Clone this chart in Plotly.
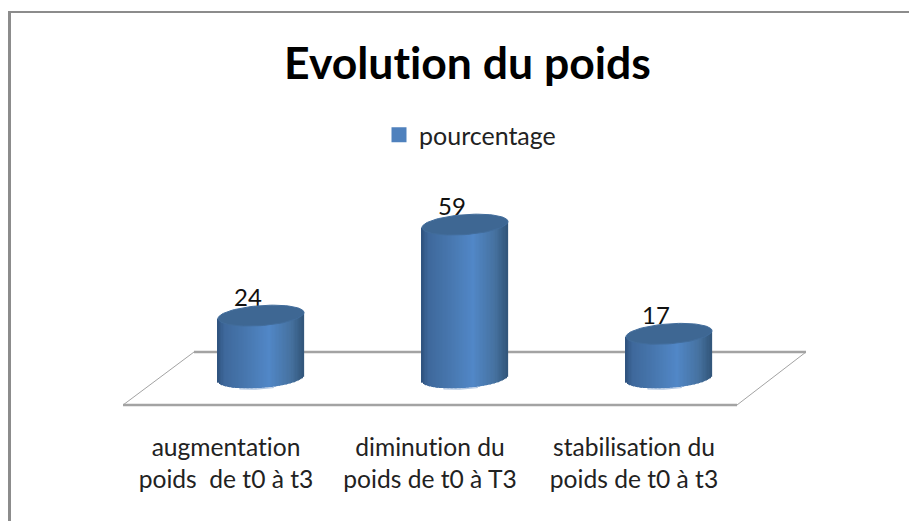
import numpy as np
import plotly.graph_objects as go

categories = [
    "augmentation<br>poids  de t0 à t3",
    "diminution du<br>poids de t0 à T3",
    "stabilisation du<br>poids de t0 à t3",
]
pourcentage = [24, 59, 17]
title = "Evolution du poids"
series_name = "pourcentage"

W, H = 909, 521
PLOT_BOTTOM = 430     # pixel row where the plot area stops
PX_X = 204.0          # pixels per category
PX_Y = 2.6            # pixels per percent
X0_PX = 261.0         # pixel of first category
Y0_PX = 378.0         # pixel of value 0
HALF_W = 43 / PX_X
HALF_H = 10 / PX_Y
SHEAR = 3 / PX_Y      # tilt of the ellipses
N_SLICES = 64
FONT = "Lato"


def px_x(p):
    return (p - X0_PX) / PX_X


def px_y(p):
    return (Y0_PX - p) / PX_Y


def shade(t):
    stops = [0, 0.08, 0.35, 0.6, 0.85, 1]
    r = np.interp(t, stops, [47, 62, 72, 81, 70, 50])
    g = np.interp(t, stops, [82, 104, 120, 135, 114, 85])
    b = np.interp(t, stops, [125, 155, 176, 199, 160, 122])
    return f"rgb({r:.0f},{g:.0f},{b:.0f})"


fig = go.Figure()

# cylinder bodies: thin bars following the bottom ellipse
u = (np.arange(N_SLICES) + 0.5) / N_SLICES * 2 - 1
slice_x, slice_h, slice_b, slice_c = [], [], [], []
for i, v in enumerate(pourcentage):
    base = -HALF_H * np.sqrt(1 - u ** 2) + SHEAR * u
    slice_x.extend(i + u * HALF_W)
    slice_b.extend(base)
    slice_h.extend(v + SHEAR * u - base)
    slice_c.extend(shade((t + 1) / 2) for t in u)

fig.add_trace(go.Bar(
    x=slice_x,
    y=slice_h,
    base=slice_b,
    width=2 * HALF_W / N_SLICES * 1.2,
    marker=dict(color=slice_c, line=dict(width=0)),
    showlegend=False,
    hoverinfo="skip",
))

# faint light rim under each cylinder
rim = np.linspace(-0.5, 0.3, 20)
for i in range(len(pourcentage)):
    fig.add_trace(go.Scatter(
        x=i + rim * HALF_W,
        y=-HALF_H * np.sqrt(1 - rim ** 2) + SHEAR * rim - 0.8 / PX_Y,
        mode="lines",
        line=dict(color="#b4c8e2", width=1.2),
        showlegend=False,
        hoverinfo="skip",
    ))

# labels go under the caps, the caps clip them a little
fig.add_trace(go.Scatter(
    x=[i - 13 / PX_X for i in range(len(pourcentage))],
    y=[v + 15.5 / PX_Y for v in pourcentage],
    mode="text",
    text=[str(v) for v in pourcentage],
    textposition="middle center",
    textfont=dict(family=FONT, size=24, color="#111111"),
    showlegend=False,
    hoverinfo="skip",
))

theta = np.linspace(0, 2 * np.pi, 80)
for i, v in enumerate(pourcentage):
    fig.add_trace(go.Scatter(
        x=i + HALF_W * np.cos(theta),
        y=v + HALF_H * np.sin(theta) + SHEAR * np.cos(theta),
        mode="lines",
        fill="toself",
        fillcolor="#3e6793",
        line=dict(color="#426d9c", width=1),
        showlegend=False,
        hoverinfo="skip",
    ))

# legend entry only
fig.add_trace(go.Scatter(
    x=[None],
    y=[None],
    mode="markers",
    name=series_name,
    marker=dict(symbol="square", size=15, color="#4f81bd"),
))

# carries the category labels on the second x axis
fig.add_trace(go.Scatter(x=[None], y=[None], xaxis="x2", showlegend=False, hoverinfo="skip"))

# floor of the 3d chart
floor_px = [(123, 405, 737, 405, 2.5), (194, 352, 806, 352, 2.5),
            (123, 405, 194, 352, 1), (737, 405, 806, 352, 1)]
shapes = []
for x0, y0, x1, y1, lw in floor_px:
    shapes.append(dict(type="line", xref="x", yref="y", layer="below",
                       x0=px_x(x0), y0=px_y(y0), x1=px_x(x1), y1=px_y(y1),
                       line=dict(color="#a3a3a3", width=lw)))

# frame of the chart area
shapes.append(dict(type="line", xref="paper", yref="paper", layer="below",
                   x0=8 / W, x1=1, y0=1 - 12 / H, y1=1 - 12 / H,
                   line=dict(color="#8c8c8c", width=2)))
shapes.append(dict(type="line", xref="paper", yref="paper", layer="below",
                   x0=9.5 / W, x1=9.5 / W, y0=0, y1=1 - 11 / H,
                   line=dict(color="#8c8c8c", width=3)))

fig.update_layout(
    width=W,
    height=H,
    margin=dict(l=0, r=0, t=0, b=0),
    plot_bgcolor="white",
    paper_bgcolor="white",
    barmode="overlay",
    title=dict(text=f"<b>{title}</b>", x=467.5 / W, xanchor="center",
               y=1 - 63 / H, yanchor="middle",
               font=dict(family=FONT, size=44.5, color="black")),
    legend=dict(x=379 / W, xanchor="left", y=1 - 135 / H, yanchor="middle",
                orientation="h", font=dict(family=FONT, size=25, color="#222222"),
                bgcolor="rgba(0,0,0,0)"),
    xaxis=dict(range=[px_x(0), px_x(W)], visible=False),
    # second x axis only carries the category labels, they sit left of the cylinders
    xaxis2=dict(
        overlaying="x",
        side="bottom",
        anchor="y",
        range=[px_x(0) + 35 / PX_X, px_x(W) + 35 / PX_X],
        tickmode="array",
        tickvals=list(range(len(categories))),
        ticktext=categories,
        tickfont=dict(family=FONT, size=24.6, color="#222222"),
        showgrid=False,
        zeroline=False,
        showline=False,
        ticks="",
        tickangle=0,
    ),
    yaxis=dict(range=[px_y(PLOT_BOTTOM), px_y(0)], visible=False,
               domain=[(H - PLOT_BOTTOM) / H, 1]),
    shapes=shapes,
)

fig.write_html(
    "out.html",
    config=dict(displayModeBar=False),
    post_script=(
        "document.body.style.margin='0';document.body.style.overflow='hidden';"
        "var s=document.createElement('style');"
        "s.textContent='text{font-variant-ligatures:none !important}';"
        "document.head.appendChild(s);"
    ),
)
